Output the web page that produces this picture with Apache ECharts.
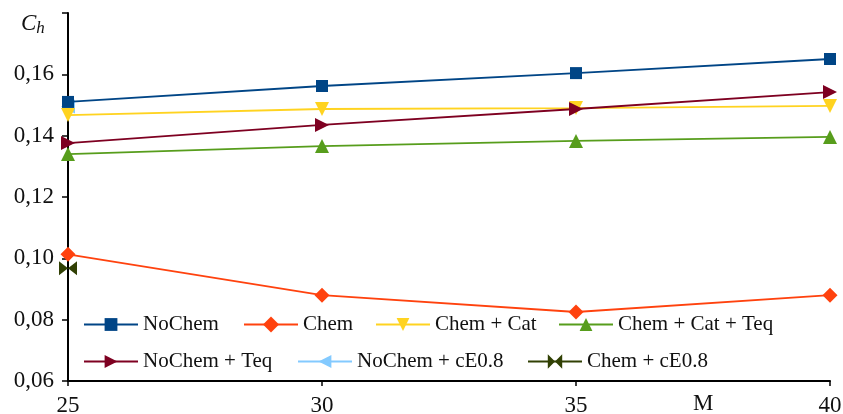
<!DOCTYPE html>
<html><head><meta charset="utf-8">
<script src="https://cdn.jsdelivr.net/npm/echarts@6/dist/echarts.min.js"></script>
<style>html,body{margin:0;padding:0;background:#fff}#c{width:843px;height:414px}</style>
</head><body><div id="c"></div>
<script>
const xValues = [25, 30, 35, 40];
const yTicks = [0.06, 0.08, 0.10, 0.12, 0.14, 0.16, 0.18];
const seriesNames = ['NoChem','Chem','Chem + Cat','Chem + Cat + Teq','NoChem + Teq','NoChem + cE0.8','Chem + cE0.8'];
const noChem = [0.151, 0.1562, 0.1604, 0.165];
const chem = [0.1013, 0.088, 0.0825, 0.088];
const chemCat = [0.1467, 0.1487, 0.149, 0.1497];
const chemCatTeq = [0.134, 0.1366, 0.1383, 0.1396];
const noChemTeq = [0.1376, 0.1435, 0.1487, 0.1542];
const noChemCE08 = [0.1495];
const chemCE08 = [0.0968];

const colors = ['#004586','#ff420e','#ffd320','#579d1c','#7e0021','#83caff','#314004'];
const symbols = ['rect','diamond','path://M0,0 L10,0 L5,10 Z','triangle','path://M0,0 L10,5 L0,10 Z','path://M10,0 L0,5 L10,10 Z','path://M0,0 L10,5 L0,10 Z M20,0 L10,5 L20,10 Z'];
const sizes = [12, 15, 14, 14, 14, 14, [18,14]];
const datas = [noChem, chem, chemCat, chemCatTeq, noChemTeq, noChemCE08, chemCE08];
const zs = [5, 4, 3, 2, 6, 1, 2];
const legendIconH = [16, 20, 16, 16, 16, 16, 18];

const series = seriesNames.map((n,i)=>({
  name:n, type:'line',
  data: datas[i].map((v,k)=>[xValues[k], v]),
  symbol: symbols[i], symbolSize: sizes[i],
  lineStyle:{color:colors[i], width:1.8},
  itemStyle:{color:colors[i]},
  z: zs[i], animation:false
}));

const legendRows = [325, 362];
const legendPos = [
  [83,0],[243,0],[375,0],[558,0],
  [83,1],[297,1],[527,1]
];
const legends = seriesNames.map((n,i)=>({
  data:[n], left:legendPos[i][0], top:legendRows[legendPos[i][1]] - Math.max(legendIconH[i], 22)/2,
  itemWidth:54, itemHeight:legendIconH[i], padding:0, itemGap:0,
  textStyle:{fontFamily:'Liberation Serif', fontSize:21, color:'#111'},
  selectedMode:false
}));

const chart = echarts.init(document.getElementById('c'));
chart.setOption({
  backgroundColor:'#fff',
  animation:false,
  grid:{left:68, right:13, top:13, bottom:33, outerBoundsMode:'none', containLabel:false},
  legend: legends,
  xAxis:{type:'value', min:25, max:40, interval:5,
    axisLine:{lineStyle:{color:'#000', width:2}},
    axisTick:{length:5, lineStyle:{color:'#000', width:1.5}},
    splitLine:{show:false},
    axisLabel:{fontFamily:'Liberation Serif', fontSize:23, color:'#111', margin:13}
  },
  yAxis:{type:'value', min:0.06, max:0.18, interval:0.02,
    axisLine:{show:true, lineStyle:{color:'#000', width:2}},
    axisTick:{show:true, length:6, lineStyle:{color:'#000', width:1.5}},
    splitLine:{show:false},
    axisLabel:{fontFamily:'Liberation Serif', fontSize:23, color:'#111', margin:14,
      formatter:v=>{ if (Math.abs(v-0.18)<1e-9) return ''; return v.toFixed(2).replace('.',','); }}
  },
  graphic:[
    {type:'text', left:21, top:12, style:{rich:{c:{fontFamily:'Liberation Serif', fontStyle:'italic', fontSize:23, fill:'#111'}, h:{fontFamily:'Liberation Serif', fontStyle:'italic', fontSize:17, fill:'#111', padding:[10,0,0,0]}}, text:'{c|C}{h|h}'}},
    {type:'text', left:693, top:392, style:{text:'M', fontFamily:'Liberation Serif', fontSize:23, fill:'#111'}}
  ],
  series: series
});
</script></body></html>
